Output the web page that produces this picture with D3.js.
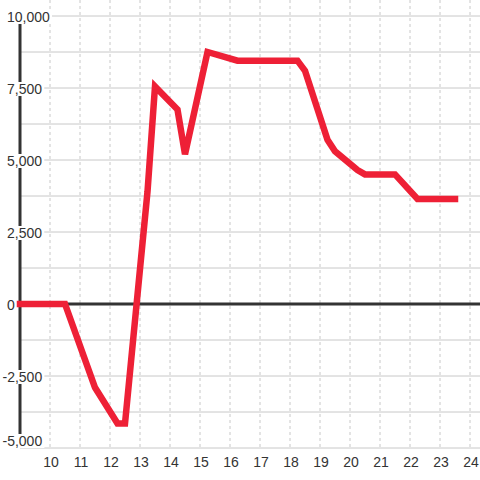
<!DOCTYPE html>
<html><head><meta charset="utf-8">
<script src="https://cdn.jsdelivr.net/npm/d3@7"></script>
<style>
body{margin:0;background:#fff;}
svg{display:block;font-family:"Liberation Sans",Arial,sans-serif;}
</style></head>
<body><svg id="c" width="480" height="480"></svg>
<script>
const hours  = [9, 10.5, 11.5, 12.25, 12.5, 13.25, 13.5, 14.25, 14.5, 15.25, 16.25, 18.25, 18.5, 19.25, 19.5, 20.25, 20.5, 21.5, 22.25, 23.5];
const values = [0, 0, -2900, -4150, -4150, 3900, 7550, 6750, 5200, 8750, 8450, 8450, 8100, 5700, 5300, 4650, 4500, 4500, 3650, 3650];
const xTicks = [10,11,12,13,14,15,16,17,18,19,20,21,22,23,24];
const yMajor = [10000, 7500, 5000, 2500, 0, -2500, -5000];
const yMinor = [8750, 6250, 3750, 1250, -1250, -3750];

const svg = d3.select("#c");
const x = d3.scaleLinear().domain([9, 24.3333]).range([20, 480]);
const y = d3.scaleLinear().domain([-5000, 10000]).range([448, 16]);
const fmt = d3.format(",");

// vertical dashed grid
svg.append("g").selectAll("line").data(xTicks).join("line")
  .attr("x1", d => x(d)).attr("x2", d => x(d)).attr("y1", 0).attr("y2", y(-5000))
  .attr("stroke", "#c8c8c8").attr("stroke-width", 1).attr("stroke-dasharray", "3,3");

// horizontal grid
svg.append("g").selectAll("line").data(yMajor.concat(yMinor).filter(d => d !== 0)).join("line")
  .attr("x1", x(9)).attr("x2", 480).attr("y1", d => y(d)).attr("y2", d => y(d))
  .attr("stroke", "#c8c8c8").attr("stroke-width", 1);

// zero line
svg.append("line").attr("x1", x(9) - 3).attr("x2", 480).attr("y1", y(0)).attr("y2", y(0))
  .attr("stroke", "#333").attr("stroke-width", 3);

// y axis line
svg.append("line").attr("x1", x(9)).attr("x2", x(9)).attr("y1", y(10000)).attr("y2", y(-5000))
  .attr("stroke", "#333").attr("stroke-width", 3);

// x tick labels
svg.append("g").selectAll("text").data(xTicks).join("text")
  .attr("x", d => x(d) + 1).attr("y", 467).attr("text-anchor", "middle")
  .attr("font-size", 14).attr("fill", "#333").text(d => d);

// y labels with white background
const yl = svg.append("g").selectAll("g").data(yMajor).join("g");
yl.each(function(d) {
  const g = d3.select(this);
  const base = Math.min(y(d) + 6, 446);
  const t = g.append("text").attr("x", d < 0 ? 2.5 : 7).attr("y", base)
    .attr("font-size", 14).attr("fill", "#333").text(fmt(d).replace("−", "-"));
  const b = t.node().getBBox();
  g.insert("rect", "text").attr("x", b.x - 1).attr("y", base - 12).attr("width", b.width + 3).attr("height", 14)
    .attr("fill", "#fff");
});

// data line
const line = d3.line().x((d, i) => x(hours[i])).y(d => y(d));
svg.append("path").datum(values).attr("d", line)
  .attr("fill", "none").attr("stroke", "#ee2036").attr("stroke-width", 6.5)
  .attr("stroke-linecap", "square").attr("stroke-linejoin", "miter");
</script></body></html>
